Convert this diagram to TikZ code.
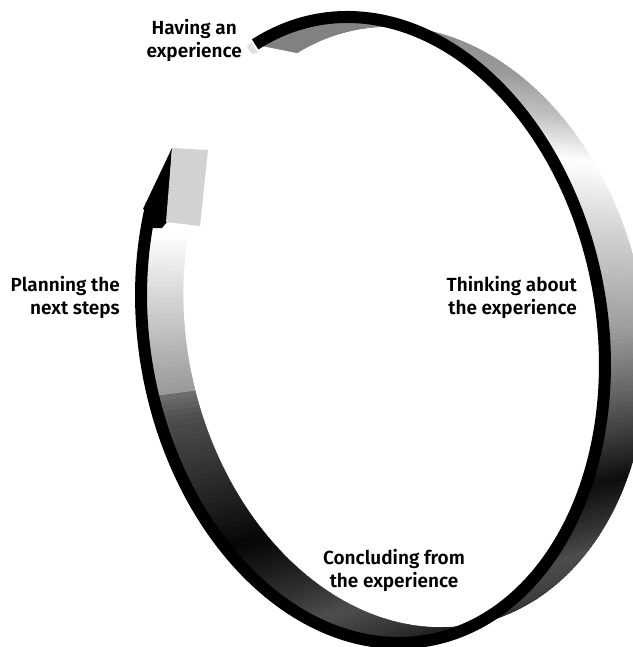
\documentclass[tikz,border=0pt]{standalone}
\usepackage{fontspec}
\setmainfont{Fira Sans}[BoldFont={* SemiBold}]
\begin{document}
\begin{tikzpicture}[x=1pt,y=-1pt,
  declare function={ex(\t)=373+229.4*cos(\t)+34.4*sin(\t); ey(\t)=330-11.8*cos(\t)+312.8*sin(\t);
    fx(\t)=ex(\t)+42; fy(\t)=ey(\t)-3-0.04*(ey(\t)-330);},
  lbl/.style={font=\fontsize{19}{23}\selectfont\bfseries, inner sep=0pt, text=black},
  rim/.style={line width=12pt, line cap=butt, black}]
\useasboundingbox (0,0) rectangle (632,647);
% band face, sliced along the loop
\foreach \ta/\ga/\tb/\gb in {248/0.50/280/0.52, 280/0.52/305/0.60, 305/0.60/318/0.75, 318/0.75/329/1.0, 329/1.0/342/0.85, 342/0.85/362/0.62, 362/0.62/392/0.05, 392/0.05/411/0.3, 411/0.3/450/0.12, 450/0.12/474/0.3, 474/0.3/498/0.02, 498/0.02/525/0.3, 525/0.3/530/0.44, 530/0.6/560/1.0, 560/1.0/564/1.0}{
  \pgfmathtruncatemacro\n{\tb-\ta}
  \foreach \i in {1,...,\n}{
    \pgfmathsetmacro\tone{\ta+\i-1}
    \pgfmathsetmacro\ttwo{\ta+\i}
    \pgfmathsetmacro\g{\ga+(\gb-\ga)*(\i-0.5)/\n}
    \definecolor{segc}{gray}{\g}
    \fill[segc,draw=segc,line width=0.5pt] ({ex(\tone)},{ey(\tone)}) -- ({ex(\ttwo)},{ey(\ttwo)}) -- ({fx(\ttwo)},{fy(\ttwo)}) -- ({fx(\tone)},{fy(\tone)}) -- cycle;
  }
}
% light sliver at the tail end
\fill[gray!25!white] (247,47) -- (251,42) -- (258,53) -- (252,54) -- cycle;
% black rim
\draw[rim] plot[domain=248:566,samples=320,smooth] ({ex(\x)},{ey(\x)});
% arrow head
\fill[black] (172,148) -- (143,209) -- (152,213) -- (146,228) -- (162,228) -- (167,222) -- cycle;
\fill[gray!35!white] (172,148) -- (208,150) -- (200,226) -- (166,222) -- cycle;
% labels
\node[lbl, anchor=east, align=center] (have) at (242,40) {Having an\\experience};
\node[lbl, anchor=east, align=right] (plan) at (120,297) {Planning the\\next steps};
\node[lbl, anchor=east, align=right] (think) at (577,297) {Thinking about\\the experience};
\node[lbl, anchor=center, align=center] (concl) at (394,570) {Concluding from\\the experience};
\end{tikzpicture}
\end{document}
